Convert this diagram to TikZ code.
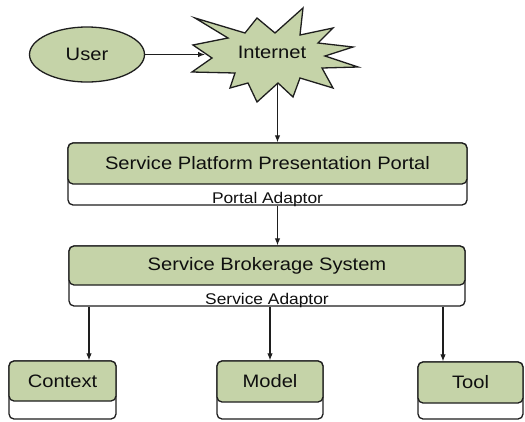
\documentclass[tikz,border=0pt]{standalone}
\usepackage{fontspec}
\setmainfont{Liberation Sans}[FakeStretch=1.12]
\usetikzlibrary{arrows.meta,shapes.geometric}
\definecolor{sage}{RGB}{197,211,168}
\definecolor{ink}{RGB}{30,30,30}
\definecolor{txt}{RGB}{15,15,15}
\begin{document}
\begin{tikzpicture}[x=1pt,y=-1pt,
  line/.style={draw=ink,line width=1.3pt},
  arr/.style={draw=ink,line width=1.1pt,-{Latex[length=7pt,width=5.5pt]}},
  greenbox/.style={line,fill=sage,rounded corners=5pt,inner sep=0pt,font=\fontsize{18}{20}\selectfont,text=txt},
  whitebox/.style={line,fill=white,rounded corners=5pt,inner sep=0pt},
  small/.style={font=\fontsize{15.5}{17}\selectfont,text=txt,inner sep=0pt,anchor=base},
  userstyle/.style={line,fill=sage,ellipse,inner sep=0pt,font=\fontsize{18}{20}\selectfont,text=txt}]
\useasboundingbox (0,0) rectangle (525,421);

% User
\node[userstyle,minimum width=115pt,minimum height=55pt] (user) at (87,54.5) {User};

% Internet starburst
\filldraw[line,fill=sage,line join=miter]
  (195,18) -- (245,33) -- (257,18) -- (275,33) -- (303,8) -- (300,35) -- (333,28) -- (318,43)
  -- (353,47) -- (325,56) -- (358,67) -- (322,68) -- (333,88) -- (300,78) -- (293,97)
  -- (278,83) -- (257,102) -- (248,83) -- (230,88) -- (235,73) -- (192,72) -- (212,58)
  -- (193,45) -- (228,38) -- cycle;
\node[font=\fontsize{18}{20}\selectfont,text=txt] (internet) at (272,52) {Internet};
\coordinate (inetL) at (205,54.5);
\coordinate (inetB) at (277.5,83);

% Portal
\node[whitebox,minimum width=399pt,minimum height=62pt] (portalbox) at (267.5,174) {};
\node[greenbox,minimum width=399pt,minimum height=41pt] (portal) at (267.5,163.5) {Service Platform Presentation Portal};
\node[small] (portaladapt) at (267.5,203.5) {Portal Adaptor};

% Broker
\node[whitebox,minimum width=396pt,minimum height=60pt] (brokerbox) at (267,276) {};
\node[greenbox,minimum width=396pt,minimum height=39pt] (broker) at (267,265.5) {Service Brokerage System};
\node[small] (serviceadapt) at (267,304.5) {Service Adaptor};

% Bottom boxes
\node[whitebox,minimum width=107pt,minimum height=58pt] (contextbox) at (62.5,390) {};
\node[greenbox,minimum width=107pt,minimum height=40pt] (context) at (62.5,381) {Context};
\node[whitebox,minimum width=106pt,minimum height=58pt] (modelbox) at (270,390) {};
\node[greenbox,minimum width=106pt,minimum height=41pt] (model) at (270,381.5) {Model};
\node[whitebox,minimum width=105pt,minimum height=57pt] (toolbox) at (470.5,390.5) {};
\node[greenbox,minimum width=105pt,minimum height=41pt] (tool) at (470.5,382.5) {Tool};

\coordinate (xc) at (89,0);
\coordinate (xm) at (270,0);
\coordinate (xt) at (443,0);

% Arrows
\draw[arr] (user.east) -- (inetL);
\draw[arr] (inetB) -- (inetB |- portal.north);
\draw[arr] (portalbox.south -| inetB) -- (broker.north -| inetB);
\draw[arr] (brokerbox.south -| xc) -- (context.north -| xc);
\draw[arr] (brokerbox.south -| xm) -- (model.north -| xm);
\draw[arr] (brokerbox.south -| xt) -- (tool.north -| xt);
\end{tikzpicture}
\end{document}
